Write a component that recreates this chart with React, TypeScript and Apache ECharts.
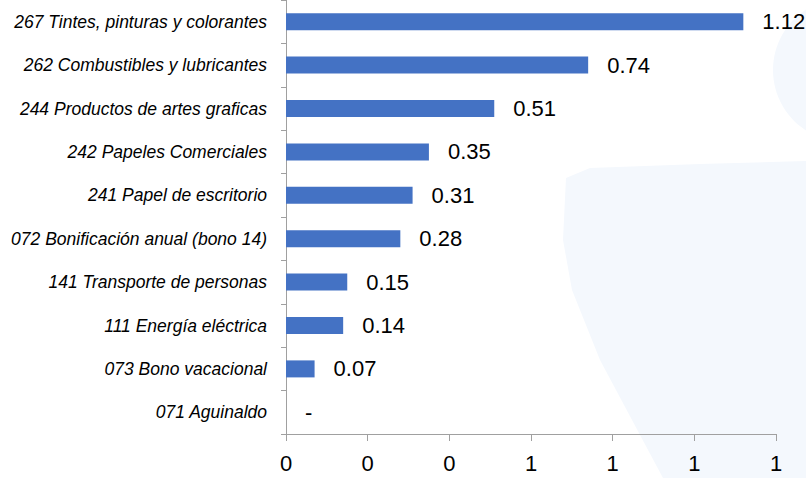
import React, { useEffect, useRef } from "react";
import * as echarts from "echarts";

const categories = [
  "267 Tintes, pinturas y colorantes",
  "262 Combustibles y lubricantes",
  "244 Productos de artes graficas",
  "242 Papeles Comerciales",
  "241 Papel de escritorio",
  "072 Bonificación anual (bono 14)",
  "141 Transporte de personas",
  "111 Energía eléctrica",
  "073 Bono vacacional",
  "071 Aguinaldo",
];

const values = [1.12, 0.74, 0.51, 0.35, 0.31, 0.28, 0.15, 0.14, 0.07, 0];

const xTickLabels = ["0", "0", "0", "1", "1", "1", "1"];

const FONT = "'Liberation Sans', Arial, sans-serif";

export default function App() {
  const ref = useRef<HTMLDivElement>(null);

  useEffect(() => {
    document.body.style.margin = "0";
    if (!ref.current) return;
    const chart = echarts.init(ref.current, undefined, { renderer: "svg" });
    chart.setOption({
      animation: false,
      backgroundColor: "#ffffff",
      graphic: [
        {
          type: "polygon",
          silent: true,
          z: -10,
          shape: {
            points: [
              [566, 178],
              [590, 168],
              [700, 164],
              [806, 161],
              [806, 478],
              [663, 478],
              [600, 360],
              [572, 290],
              [563, 240],
            ],
          },
          style: { fill: "#F4F8FD" },
        },
        {
          type: "circle",
          silent: true,
          z: -10,
          shape: { cx: 845, cy: 70, r: 72 },
          style: { fill: "#F4F8FD" },
        },
      ],
      grid: {
        left: 286,
        right: 30,
        top: 0,
        bottom: 44,
        containLabel: false,
        outerBoundsMode: "none",
      },
      xAxis: {
        type: "value",
        min: 0,
        max: 1.2,
        interval: 0.2,
        splitLine: { show: false },
        axisLine: { show: true, lineStyle: { color: "#A0A0A0", width: 1 } },
        axisTick: { show: true, length: 7, lineStyle: { color: "#A0A0A0" } },
        axisLabel: {
          fontFamily: FONT,
          fontSize: 22,
          color: "#000",
          margin: 18,
          formatter: (_v: number, idx: number) => xTickLabels[idx] ?? "",
        },
      },
      yAxis: {
        type: "category",
        inverse: true,
        data: categories,
        axisLine: { show: true, lineStyle: { color: "#A0A0A0", width: 1 } },
        axisTick: { show: true, length: 5, lineStyle: { color: "#A0A0A0" } },
        axisLabel: {
          fontFamily: FONT,
          fontStyle: "italic",
          fontSize: 17.5,
          color: "#000",
          margin: 19,
        },
      },
      series: [
        {
          type: "bar",
          data: values,
          barWidth: 17,
          itemStyle: { color: "#4472C4" },
          label: {
            show: true,
            position: "right",
            distance: 19,
            fontFamily: FONT,
            fontSize: 22,
            color: "#000",
            formatter: (p: any) => (p.value === 0 ? "-" : Number(p.value).toFixed(2)),
          },
        },
      ],
    });
    return () => chart.dispose();
  }, []);

  return <div ref={ref} style={{ width: 806, height: 478 }} />;
}
